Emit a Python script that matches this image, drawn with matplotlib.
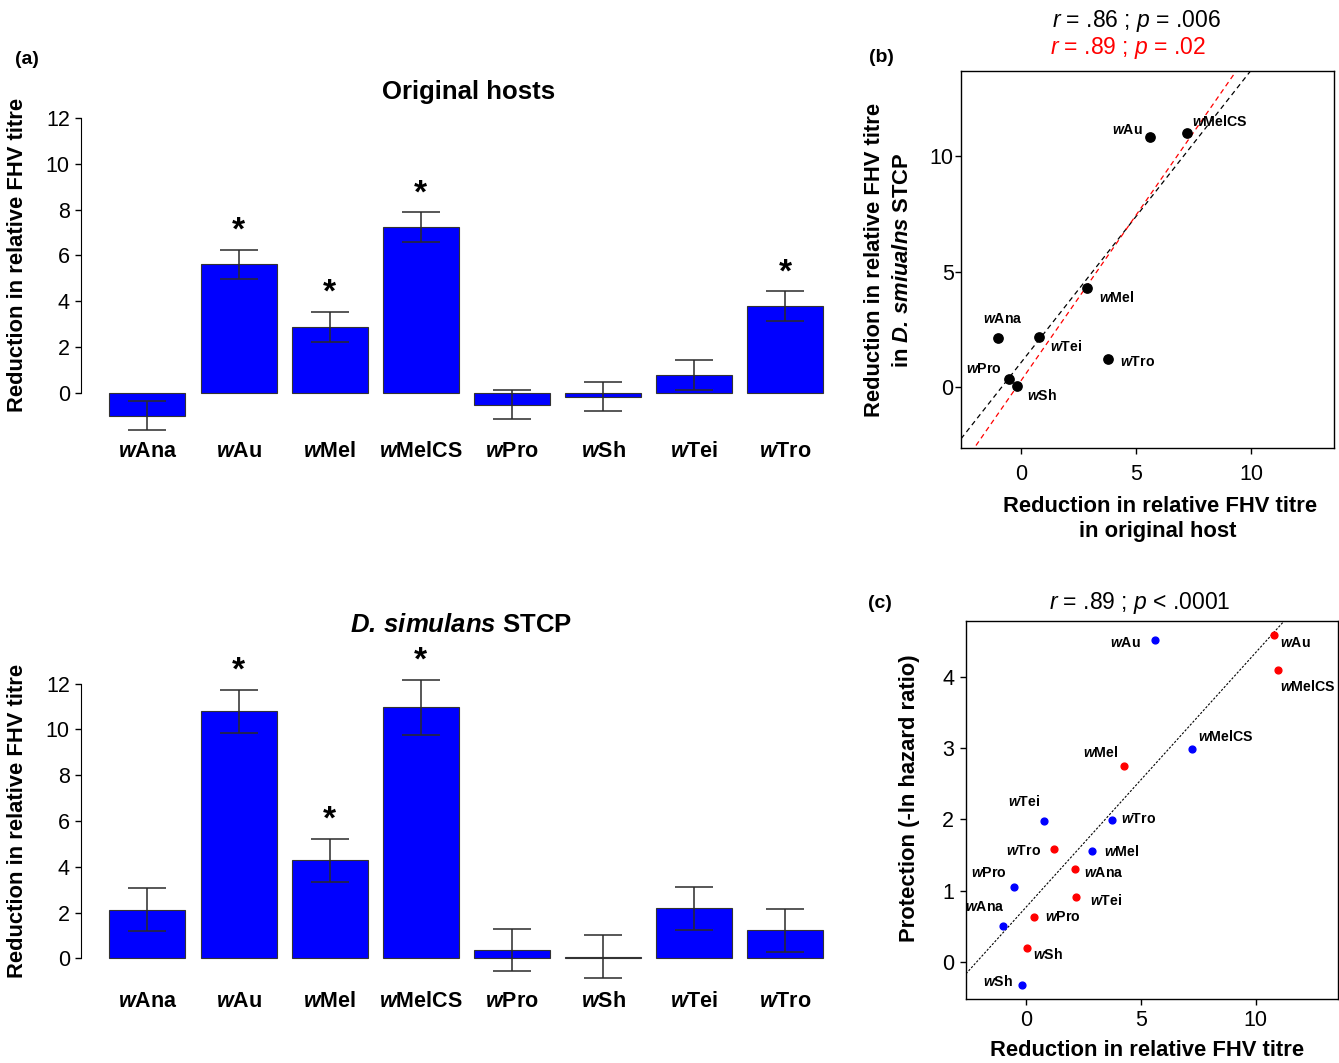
import numpy as np
import matplotlib
matplotlib.use("Agg")
import matplotlib.pyplot as plt

plt.rcParams["font.family"] = ["Liberation Sans", "DejaVu Sans"]
plt.rcParams["mathtext.fontset"] = "custom"
plt.rcParams["mathtext.rm"] = "Liberation Sans"
plt.rcParams["mathtext.it"] = "Liberation Sans:italic"
plt.rcParams["mathtext.bf"] = "Liberation Sans:bold"
plt.rcParams["mathtext.bfit"] = "Liberation Sans:italic:bold"

# --- data ---
strains = ["Ana", "Au", "Mel", "MelCS", "Pro", "Sh", "Tei", "Tro"]

# reduction in relative FHV titre, original hosts
orig_mean = [-1.0, 5.6, 2.87, 7.22, -0.52, -0.17, 0.78, 3.77]
orig_se = [0.65, 0.65, 0.65, 0.65, 0.65, 0.65, 0.65, 0.65]
orig_sig = [False, True, True, True, False, False, False, True]

# reduction in relative FHV titre, D. simulans STCP
sim_mean = [2.12, 10.8, 4.28, 10.97, 0.36, 0.07, 2.18, 1.22]
sim_se = [0.93, 0.94, 0.93, 1.2, 0.93, 0.93, 0.93, 0.93]
sim_sig = [False, True, True, True, False, False, False, False]

# protection (-ln hazard ratio)
prot_orig = [0.51, 4.51, 1.55, 2.99, 1.05, -0.32, 1.97, 1.99]
prot_sim = [1.30, 4.58, 2.74, 4.09, 0.63, 0.20, 0.91, 1.59]

# strains used for the red fit in (b)
red_fit = [False, True, False, True, True, True, True, True]

W, H = 1339, 1063
fig = plt.figure(figsize=(W / 100, H / 100), dpi=100)


def px_axes(l, t, r, b):
    return fig.add_axes([l / W, 1 - b / H, (r - l) / W, (b - t) / H])


def ftext(x, y, s, **kw):
    fig.text(x / W, 1 - y / H, s, **kw)


def wname(s):
    return r"$\mathbfit{w}$" + s


def bar_panel(ax, means, se, sig, ylim):
    x = 0.7 + 1.2 * np.arange(len(means))
    ax.bar(x, means, width=1.0, color="#0000ff", edgecolor="#333333", linewidth=0.8)
    ax.errorbar(x, means, yerr=se, fmt="none", ecolor="#2a2a2a",
                elinewidth=1.1, capsize=13.4, capthick=1.1)
    for xi, m, e, s in zip(x, means, se, sig):
        if s:
            ax.text(xi, m + e + 0.82, "*", ha="center", va="center",
                    fontsize=24, fontweight="bold")
    ax.set_xlim(-0.176, 9.976)
    ax.set_ylim(ylim)
    ax.set_xticks(x)
    ax.set_xticklabels([wname(s) for s in strains], fontsize=15.5, fontweight="bold")
    ax.tick_params(axis="x", length=0, pad=2)
    ax.set_yticks(range(0, 13, 2))
    ax.tick_params(axis="y", labelsize=15.5, length=4, width=1, pad=4)
    for sp in ["top", "right", "bottom"]:
        ax.spines[sp].set_visible(False)
    ax.spines["left"].set_bounds(0, 12)


# ---- bar panels ----
ax1 = px_axes(80.9, 105.1, 852.0, 438.5)
bar_panel(ax1, orig_mean, orig_se, orig_sig, (-2.0, 12.56))
ftext(469, 92, "Original hosts", ha="center", va="center", fontsize=18.5, fontweight="bold")
ftext(18, 255, "Reduction in relative FHV titre", rotation=90, ha="center", va="center",
      fontsize=15.8, fontweight="bold")
ftext(27, 59, "(a)", ha="center", va="center", fontsize=14, fontweight="bold")

ax2 = px_axes(80.9, 649.4, 852.0, 988.0)
bar_panel(ax2, sim_mean, sim_se, sim_sig, (-1.3, 13.5))
ftext(461, 625, r"$\mathbfit{D.\,simulans}$ STCP", ha="center", va="center",
      fontsize=18.5, fontweight="bold")
ftext(18, 821, "Reduction in relative FHV titre", rotation=90, ha="center", va="center",
      fontsize=15.8, fontweight="bold")


def scatter_style(ax, xlim, ylim, yticks, xpad, ypad):
    ax.set_xlim(xlim)
    ax.set_ylim(ylim)
    ax.set_xticks([0, 5, 10])
    ax.set_yticks(yticks)
    ax.tick_params(axis="x", labelsize=15.5, length=4.5, width=1, pad=xpad)
    ax.tick_params(axis="y", labelsize=15.5, length=4.5, width=1, pad=ypad)
    for sp in ax.spines.values():
        sp.set_linewidth(1.0)


# ---- (b) ----
axb = px_axes(961, 71, 1333.7, 447.7)
scatter_style(axb, (-2.62, 13.6), (-2.61, 13.66), [0, 5, 10], 7, 0.8)
xo = np.array(orig_mean)
ys = np.array(sim_mean)
m = np.array(red_fit)
xs = np.array(axb.get_xlim())
k, b0 = np.polyfit(xo, ys, 1)
axb.plot(xs, k * xs + b0, color="black", lw=0.9, ls=(0, (4, 3)))
k, b0 = np.polyfit(xo[m], ys[m], 1)
axb.plot(xs, k * xs + b0, color="red", lw=0.9, ls=(0, (4, 3)))
axb.set_xlim(-2.62, 13.6)
axb.scatter(xo, ys, s=45, color="black", zorder=3)

b_off = {
    "Ana": (4.5, 19, "center"),
    "Au": (-7, 7, "right"),
    "Mel": (12, -9, "left"),
    "MelCS": (5, 12, "left"),
    "Pro": (-7, 10, "right"),
    "Sh": (10, -10, "left"),
    "Tei": (11, -10, "left"),
    "Tro": (12, -3, "left"),
}
for s, xv, yv in zip(strains, xo, ys):
    dx, dy, ha = b_off[s]
    axb.annotate(wname(s), (xv, yv), xytext=(dx, dy), textcoords="offset pixels",
                 ha=ha, va="center", fontsize=10.2, fontweight="bold")

ftext(1136, 21, r"$\mathit{r}$ = .86 ; $\mathit{p}$ = .006", ha="center", va="center", fontsize=16.5)
ftext(1128, 48, r"$\mathit{r}$ = .89 ; $\mathit{p}$ = .02", ha="center", va="center",
      fontsize=16.5, color="red")
ftext(881, 57, "(b)", ha="center", va="center", fontsize=14, fontweight="bold")
ftext(875, 260, "Reduction in relative FHV titre", rotation=90, ha="center", va="center",
      fontsize=15.8, fontweight="bold")
ftext(902, 260, r"in $\mathbfit{D.\,smiualns}$ STCP", rotation=90, ha="center",
      va="center", fontsize=15.8, fontweight="bold")
ftext(1160, 506, "Reduction in relative FHV titre", ha="center", va="center",
      fontsize=15.8, fontweight="bold")
ftext(1158, 531, "in original host", ha="center", va="center", fontsize=15.8, fontweight="bold")

# ---- (c) ----
axc = px_axes(966, 621, 1338.3, 999)
scatter_style(axc, (-2.6, 13.59), (-0.52, 4.78), [0, 1, 2, 3, 4], 3.6, 3.9)
xall = np.concatenate([orig_mean, sim_mean])
yall = np.concatenate([prot_orig, prot_sim])
k, b0 = np.polyfit(xall, yall, 1)
xs = np.array(axc.get_xlim())
axc.plot(xs, k * xs + b0, color="black", lw=0.8, ls=(0, (2, 1.5)))
axc.set_xlim(-2.6, 13.59)
axc.scatter(orig_mean, prot_orig, s=24, color="#0000ff", zorder=3)
axc.scatter(sim_mean, prot_sim, s=24, color="#ff0000", zorder=3)

c_off_orig = {
    "Ana": (2, 19, "right"),
    "Au": (-14, -3, "right"),
    "Mel": (12, 0, "left"),
    "MelCS": (6, 12.6, "left"),
    "Pro": (-7, 14, "right"),
    "Sh": (-9, 3, "right"),
    "Tei": (-3, 20, "right"),
    "Tro": (9, 1, "left"),
}
c_off_sim = {
    "Ana": (9, -4, "left"),
    "Au": (6, -8, "left"),
    "Mel": (-6, 14, "right"),
    "MelCS": (2, -16, "left"),
    "Pro": (11, 0, "left"),
    "Sh": (6, -7, "left"),
    "Tei": (14, -3, "left"),
    "Tro": (-13, -2, "right"),
}
for xv, yv, off in [(orig_mean, prot_orig, c_off_orig), (sim_mean, prot_sim, c_off_sim)]:
    for s, a, c in zip(strains, xv, yv):
        dx, dy, ha = off[s]
        axc.annotate(wname(s), (a, c), xytext=(dx, dy), textcoords="offset pixels",
                     ha=ha, va="center", fontsize=10.2, fontweight="bold")

ftext(1140, 603, r"$\mathit{r}$ = .89 ; $\mathit{p}$ < .0001", ha="center", va="center", fontsize=16.5)
ftext(880, 604, "(c)", ha="center", va="center", fontsize=14, fontweight="bold")
ftext(910, 798, "Protection (-ln hazard ratio)", rotation=90, ha="center", va="center",
      fontsize=15.8, fontweight="bold")
ftext(1147, 1050, "Reduction in relative FHV titre", ha="center", va="center",
      fontsize=15.8, fontweight="bold")

fig.savefig("out.png", dpi=100)
